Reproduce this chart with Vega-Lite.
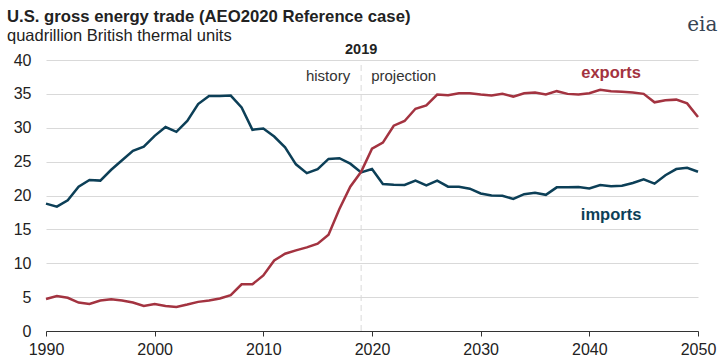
{
  "$schema": "https://vega.github.io/schema/vega-lite/v6.json",
  "width": 652,
  "height": 271,
  "autosize": {"type": "none"},
  "padding": {"left": 46, "top": 60, "right": 29, "bottom": 33},
  "config": {
    "font": "Liberation Sans",
    "view": {"stroke": null},
    "axis": {"labelFont": "Liberation Sans", "labelColor": "#222", "labelFontSize": 16, "labelOverlap": false, "labelFlush": false}
  },
  "title": {
    "text": "U.S. gross energy trade (AEO2020 Reference case)",
    "subtitle": "quadrillion British thermal units",
    "anchor": "start",
    "frame": "group",
    "dx": -39,
    "offset": -30,
    "fontSize": 16.7,
    "fontWeight": "bold",
    "color": "#222",
    "subtitleFontSize": 16.5,
    "subtitleColor": "#222",
    "subtitlePadding": 3
  },
  "datasets": {
    "trade": [
      {"year": 1990, "series": "imports", "value": 18.8},
      {"year": 1991, "series": "imports", "value": 18.35},
      {"year": 1992, "series": "imports", "value": 19.3},
      {"year": 1993, "series": "imports", "value": 21.3},
      {"year": 1994, "series": "imports", "value": 22.3},
      {"year": 1995, "series": "imports", "value": 22.2},
      {"year": 1996, "series": "imports", "value": 23.8},
      {"year": 1997, "series": "imports", "value": 25.2},
      {"year": 1998, "series": "imports", "value": 26.6},
      {"year": 1999, "series": "imports", "value": 27.2},
      {"year": 2000, "series": "imports", "value": 28.8},
      {"year": 2001, "series": "imports", "value": 30.1},
      {"year": 2002, "series": "imports", "value": 29.4},
      {"year": 2003, "series": "imports", "value": 31.0},
      {"year": 2004, "series": "imports", "value": 33.5},
      {"year": 2005, "series": "imports", "value": 34.7},
      {"year": 2006, "series": "imports", "value": 34.7},
      {"year": 2007, "series": "imports", "value": 34.75},
      {"year": 2008, "series": "imports", "value": 33.0},
      {"year": 2009, "series": "imports", "value": 29.7},
      {"year": 2010, "series": "imports", "value": 29.9},
      {"year": 2011, "series": "imports", "value": 28.7},
      {"year": 2012, "series": "imports", "value": 27.1},
      {"year": 2013, "series": "imports", "value": 24.6},
      {"year": 2014, "series": "imports", "value": 23.3},
      {"year": 2015, "series": "imports", "value": 23.9},
      {"year": 2016, "series": "imports", "value": 25.4},
      {"year": 2017, "series": "imports", "value": 25.5},
      {"year": 2018, "series": "imports", "value": 24.7},
      {"year": 2019, "series": "imports", "value": 23.4},
      {"year": 2020, "series": "imports", "value": 23.9},
      {"year": 2021, "series": "imports", "value": 21.7},
      {"year": 2022, "series": "imports", "value": 21.6},
      {"year": 2023, "series": "imports", "value": 21.55},
      {"year": 2024, "series": "imports", "value": 22.2},
      {"year": 2025, "series": "imports", "value": 21.5},
      {"year": 2026, "series": "imports", "value": 22.2},
      {"year": 2027, "series": "imports", "value": 21.3},
      {"year": 2028, "series": "imports", "value": 21.3},
      {"year": 2029, "series": "imports", "value": 21.0},
      {"year": 2030, "series": "imports", "value": 20.3},
      {"year": 2031, "series": "imports", "value": 20.0},
      {"year": 2032, "series": "imports", "value": 19.95},
      {"year": 2033, "series": "imports", "value": 19.5},
      {"year": 2034, "series": "imports", "value": 20.2},
      {"year": 2035, "series": "imports", "value": 20.4},
      {"year": 2036, "series": "imports", "value": 20.1},
      {"year": 2037, "series": "imports", "value": 21.2},
      {"year": 2038, "series": "imports", "value": 21.2},
      {"year": 2039, "series": "imports", "value": 21.25},
      {"year": 2040, "series": "imports", "value": 21.05},
      {"year": 2041, "series": "imports", "value": 21.55},
      {"year": 2042, "series": "imports", "value": 21.35},
      {"year": 2043, "series": "imports", "value": 21.45},
      {"year": 2044, "series": "imports", "value": 21.85},
      {"year": 2045, "series": "imports", "value": 22.4},
      {"year": 2046, "series": "imports", "value": 21.75},
      {"year": 2047, "series": "imports", "value": 23.0},
      {"year": 2048, "series": "imports", "value": 23.9},
      {"year": 2049, "series": "imports", "value": 24.1},
      {"year": 2050, "series": "imports", "value": 23.5},
      {"year": 1990, "series": "exports", "value": 4.72},
      {"year": 1991, "series": "exports", "value": 5.17},
      {"year": 1992, "series": "exports", "value": 4.9},
      {"year": 1993, "series": "exports", "value": 4.2},
      {"year": 1994, "series": "exports", "value": 4.0},
      {"year": 1995, "series": "exports", "value": 4.5},
      {"year": 1996, "series": "exports", "value": 4.67},
      {"year": 1997, "series": "exports", "value": 4.5},
      {"year": 1998, "series": "exports", "value": 4.2},
      {"year": 1999, "series": "exports", "value": 3.7},
      {"year": 2000, "series": "exports", "value": 4.0},
      {"year": 2001, "series": "exports", "value": 3.7},
      {"year": 2002, "series": "exports", "value": 3.55},
      {"year": 2003, "series": "exports", "value": 3.9},
      {"year": 2004, "series": "exports", "value": 4.3},
      {"year": 2005, "series": "exports", "value": 4.5},
      {"year": 2006, "series": "exports", "value": 4.8},
      {"year": 2007, "series": "exports", "value": 5.3},
      {"year": 2008, "series": "exports", "value": 6.9},
      {"year": 2009, "series": "exports", "value": 6.9},
      {"year": 2010, "series": "exports", "value": 8.2},
      {"year": 2011, "series": "exports", "value": 10.4},
      {"year": 2012, "series": "exports", "value": 11.4},
      {"year": 2013, "series": "exports", "value": 11.9},
      {"year": 2014, "series": "exports", "value": 12.35},
      {"year": 2015, "series": "exports", "value": 12.9},
      {"year": 2016, "series": "exports", "value": 14.2},
      {"year": 2017, "series": "exports", "value": 18.0},
      {"year": 2018, "series": "exports", "value": 21.3},
      {"year": 2019, "series": "exports", "value": 23.5},
      {"year": 2020, "series": "exports", "value": 26.9},
      {"year": 2021, "series": "exports", "value": 27.8},
      {"year": 2022, "series": "exports", "value": 30.3},
      {"year": 2023, "series": "exports", "value": 31.0},
      {"year": 2024, "series": "exports", "value": 32.8},
      {"year": 2025, "series": "exports", "value": 33.3},
      {"year": 2026, "series": "exports", "value": 34.9},
      {"year": 2027, "series": "exports", "value": 34.8},
      {"year": 2028, "series": "exports", "value": 35.1},
      {"year": 2029, "series": "exports", "value": 35.1},
      {"year": 2030, "series": "exports", "value": 34.9},
      {"year": 2031, "series": "exports", "value": 34.75},
      {"year": 2032, "series": "exports", "value": 35.0},
      {"year": 2033, "series": "exports", "value": 34.6},
      {"year": 2034, "series": "exports", "value": 35.1},
      {"year": 2035, "series": "exports", "value": 35.2},
      {"year": 2036, "series": "exports", "value": 34.9},
      {"year": 2037, "series": "exports", "value": 35.4},
      {"year": 2038, "series": "exports", "value": 35.0},
      {"year": 2039, "series": "exports", "value": 34.9},
      {"year": 2040, "series": "exports", "value": 35.1},
      {"year": 2041, "series": "exports", "value": 35.6},
      {"year": 2042, "series": "exports", "value": 35.4},
      {"year": 2043, "series": "exports", "value": 35.3},
      {"year": 2044, "series": "exports", "value": 35.2},
      {"year": 2045, "series": "exports", "value": 35.0},
      {"year": 2046, "series": "exports", "value": 33.75},
      {"year": 2047, "series": "exports", "value": 34.05},
      {"year": 2048, "series": "exports", "value": 34.15},
      {"year": 2049, "series": "exports", "value": 33.6},
      {"year": 2050, "series": "exports", "value": 31.6}
    ],
    "seriesLabels": [
      {"year": 2042, "value": 37.3, "label": "exports", "series": "exports"},
      {"year": 2042, "value": 16.4, "label": "imports", "series": "imports"}
    ],
    "phase": [
      {"year": 2019, "value": 36.9, "label": "history", "side": "left"},
      {"year": 2019, "value": 36.9, "label": "projection", "side": "right"}
    ],
    "marker": [
      {"year": 2019, "value": 40.95, "label": "2019"}
    ],
    "divider": [
      {"year": 2019, "value": 0, "value2": 40}
    ],
    "logo": [
      {"year": 2050.4, "value": 44.3, "label": "eia"}
    ]
  },
  "encoding": {
    "x": {
      "field": "year",
      "type": "quantitative",
      "scale": {"domain": [1990, 2050], "nice": false, "zero": false},
      "axis": {
        "title": null,
        "values": [1990, 2000, 2010, 2020, 2030, 2040, 2050],
        "format": "d",
        "grid": false,
        "domainColor": "#333",
        "tickColor": "#333",
        "tickSize": 5,
        "labelPadding": 5
      }
    },
    "y": {
      "field": "value",
      "type": "quantitative",
      "scale": {"domain": [0, 40], "nice": false},
      "axis": {
        "title": null,
        "values": [0, 5, 10, 15, 20, 25, 30, 35, 40],
        "domain": false,
        "ticks": false,
        "grid": true,
        "labelPadding": 15,
        "gridColor": "#d9d9d9",
        "gridWidth": 1
      }
    }
  },
  "layer": [
    {
      "data": {"name": "divider"},
      "mark": {"type": "rule", "color": "#d9d9d9", "strokeDash": [6, 4], "strokeWidth": 1},
      "encoding": {
        "y2": {"field": "value2"}
      }
    },
    {
      "data": {"name": "trade"},
      "mark": {"type": "line", "strokeWidth": 2.5, "clip": false},
      "encoding": {
        "color": {
          "field": "series",
          "type": "nominal",
          "scale": {"domain": ["exports", "imports"], "range": ["#a33340", "#0c3f57"]},
          "legend": null
        }
      }
    },
    {
      "data": {"name": "seriesLabels"},
      "mark": {"type": "text", "fontSize": 16.5, "fontWeight": "bold", "align": "center", "baseline": "alphabetic"},
      "encoding": {
        "text": {"field": "label"},
        "color": {"field": "series", "type": "nominal", "legend": null}
      }
    },
    {
      "data": {"name": "phase"},
      "transform": [{"filter": "datum.side == 'left'"}],
      "mark": {"type": "text", "fontSize": 15, "color": "#333", "align": "right", "dx": -11, "baseline": "alphabetic"},
      "encoding": {
        "text": {"field": "label"}
      }
    },
    {
      "data": {"name": "phase"},
      "transform": [{"filter": "datum.side == 'right'"}],
      "mark": {"type": "text", "fontSize": 15, "color": "#333", "align": "left", "dx": 10, "baseline": "alphabetic"},
      "encoding": {
        "text": {"field": "label"}
      }
    },
    {
      "data": {"name": "marker"},
      "mark": {"type": "text", "fontSize": 14.5, "fontWeight": "bold", "color": "#222", "align": "center", "baseline": "alphabetic"},
      "encoding": {
        "text": {"field": "label"}
      }
    },
    {
      "data": {"name": "logo"},
      "mark": {"type": "text", "font": "DejaVu Serif", "fontSize": 20, "color": "#374453", "align": "center", "baseline": "alphabetic"},
      "encoding": {
        "text": {"field": "label"}
      }
    }
  ]
}
